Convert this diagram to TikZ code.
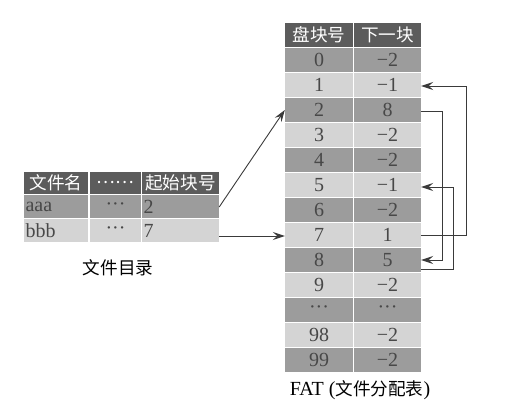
\documentclass[tikz,border=0pt]{standalone}
\usepackage{fontspec}
\setmainfont{Liberation Serif}
\newfontfamily\cjk[Scale=0.88]{Noto Sans CJK SC}
\usepackage{xcolor}
\usetikzlibrary{arrows.meta,calc,positioning}

\definecolor{headgray}{HTML}{5C5C5C}
\definecolor{darkrow}{HTML}{9C9C9C}
\definecolor{lightrow}{HTML}{D4D4D4}
\definecolor{cellink}{HTML}{484848}
\definecolor{linkgray}{HTML}{3A3A3A}

\tikzset{
  cell/.style={inner sep=0pt,minimum height=24pt,text=cellink},
  headcell/.style={cell,fill=headgray,text=white},
  link/.style={draw=linkgray,line width=0.9pt,-{Stealth[length=12pt,width=8pt,inset=4.5pt]}},
}

\begin{document}
\begin{tikzpicture}[x=1pt,y=-1pt,every node/.style={font=\fontsize{20}{22}\selectfont}]
  \useasboundingbox (0,0) rectangle (524,411);
  % FAT
  \node[headcell,minimum width=68pt] (fh1) at (319,35) {\cjk 盘块号};
  \node[headcell,minimum width=67pt] (fh2) at (387.5,35) {\cjk 下一块};
  \foreach \no/\nxt [count=\i from 0] in {0/−2,1/−1,2/8,3/−2,4/−2,5/−1,6/−2,7/1,8/5,9/−2,···/···,98/−2,99/−2} {
    \pgfmathsetmacro{\shade}{isodd(\i) ? "lightrow" : "darkrow"}
    \node[cell,fill=\shade,minimum width=68pt] (n\i) at (319,60+25*\i) {\no};
    \node[cell,fill=\shade,minimum width=67pt] (v\i) at (387.5,60+25*\i) {\nxt};
  }
  \node (fatcap) at (360,390) {FAT ({\cjk 文件分配表})};
  % directory
  \node[headcell,minimum width=64pt,minimum height=22pt] (dh1) at (56,183) {\cjk 文件名};
  \node[headcell,minimum width=51pt,minimum height=22pt] (dh2) at (115.5,183) {\cjk ……};
  \node[headcell,minimum width=77pt,minimum height=22pt] (dh3) at (180.5,183) {\cjk 起始块号};
  \node[cell,fill=darkrow,minimum width=64pt,minimum height=23pt,text width=61pt] (da1) at (56,207) {aaa};
  \node[cell,fill=darkrow,minimum width=51pt,minimum height=23pt] (da2) at (115.5,207) {···};
  \node[cell,fill=darkrow,minimum width=77pt,minimum height=23pt,text width=74pt] (da3) at (180.5,207) {2};
  \node[cell,fill=lightrow,minimum width=64pt,minimum height=23pt,text width=61pt] (db1) at (56,231) {bbb};
  \node[cell,fill=lightrow,minimum width=51pt,minimum height=23pt] (db2) at (115.5,231) {···};
  \node[cell,fill=lightrow,minimum width=77pt,minimum height=23pt,text width=74pt] (db3) at (180.5,231) {7};
  \node (dircap) at (118,268) {\cjk 文件目录};
  % chains
  \draw[link] (da3.east) -- (n2.west);
  \draw[link] ([yshift=-5pt]db3.east) -- ([yshift=-1pt]n7.west);
  \draw[link] (v7.east) -- ++(45,0) |- ([yshift=-1pt]v1.east);
  \draw[link] ([yshift=-1pt]v2.east) -- ++(21,0) |- (v8.east);
  \draw[link] ([yshift=-9pt]v8.east) -- ++(32,0) |- ([yshift=-2pt]v5.east);
\end{tikzpicture}
\end{document}
